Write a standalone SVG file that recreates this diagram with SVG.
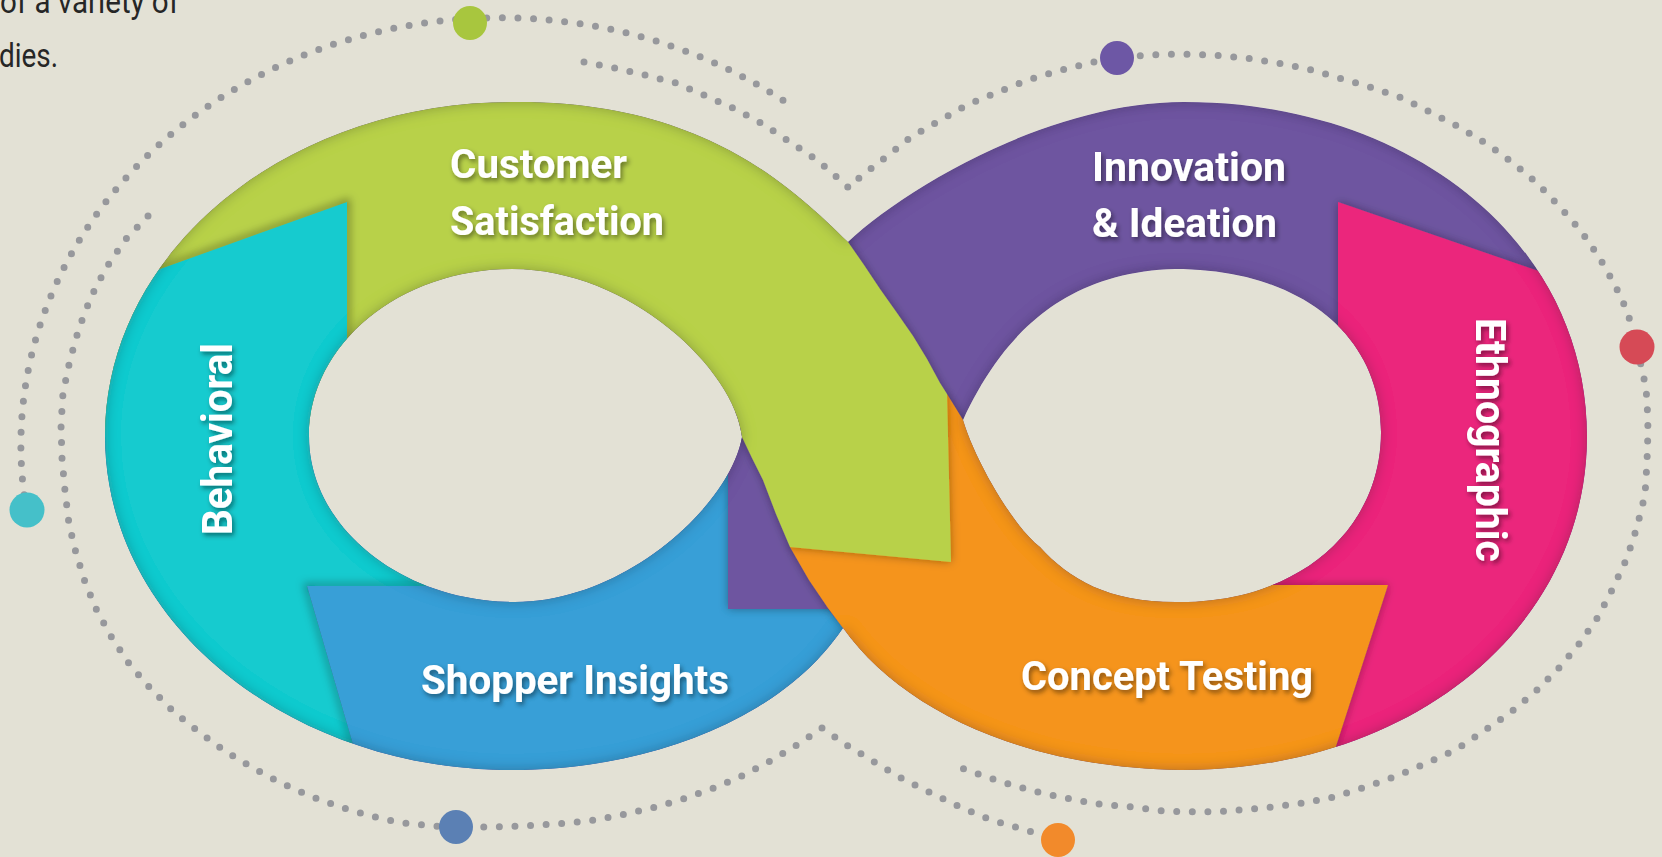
<svg xmlns="http://www.w3.org/2000/svg" width="1662" height="857" viewBox="0 0 1662 857">
<defs>
<style>
.dots{fill:none;stroke:#97989c;stroke-width:7;stroke-linecap:round;stroke-linejoin:round;stroke-dasharray:0 15.6}
.lbl{font-family:Roboto,'Open Sans','Liberation Sans',sans-serif;font-weight:700;fill:#ffffff;font-size:41px}
.rot{font-size:42px}
.intro{font-family:Roboto,'Open Sans','Liberation Sans',sans-serif;font-weight:400;fill:#262626;font-size:33px}
.piece{stroke:none}
</style>
<clipPath id="clipBand">
<path clip-rule="evenodd" d="M848,242 C905,188 1050,102 1184,102 C1415,102 1587,245 1587,436 C1587,627 1413,770 1182,770 C1020,768 900,708 843,628 C780,722 644,770 512,770 C287,770 105,621 105,436 C105,251 287,102 512,102 C700,100 790,185 848,242 Z M512,269 C400,269 309,344 309,436 C309,528 403,602 515,602 C625,602 730,505 742,437 C735,370 630,269 512,269 Z M1175,269 C1299,269 1381,334 1381,432 C1381,531 1297,602 1180,602 C1110,603 1070,580 1040,547 C1012,525 975,460 963,420 C1000,340 1060,272 1175,269 Z"/>
</clipPath>
<clipPath id="clipNotTeal"><path d="M-10,-10 L760,-10 L760,437 L347,437 L347,202 L-10,330 Z"/></clipPath>
<clipPath id="clipTeal"><path d="M-10,330 L347,202 L347,380 L430,450 L430,586 L307,586 L372,810 L-10,810 Z"/></clipPath>
<filter id="fxInner" filterUnits="userSpaceOnUse" x="0" y="0" width="1662" height="857">
<feGaussianBlur in="SourceAlpha" stdDeviation="7" result="b"/>
<feComposite in="SourceAlpha" in2="b" operator="arithmetic" k2="1" k3="-1" result="edge"/>
<feFlood flood-color="#1a1a2a" flood-opacity="0.55"/>
<feComposite in2="edge" operator="in" result="sh"/>
<feMerge><feMergeNode in="SourceGraphic"/><feMergeNode in="sh"/></feMerge>
</filter>
<filter id="fxDrop" x="-20%" y="-20%" width="140%" height="140%">
<feDropShadow dx="0" dy="0" stdDeviation="5" flood-color="#000" flood-opacity="0.35"/>
</filter>
<filter id="fxBlur" x="-20%" y="-20%" width="140%" height="140%"><feGaussianBlur stdDeviation="4"/></filter>
<filter id="fxText" x="-20%" y="-30%" width="140%" height="160%">
<feDropShadow dx="2" dy="3" stdDeviation="2.5" flood-color="#000" flood-opacity="0.45"/>
</filter>
</defs>
<rect width="1662" height="857" fill="#e3e1d5"/>
<g id="intro-text">
<text class="intro" x="0" y="13" textLength="179" lengthAdjust="spacingAndGlyphs">of a variety of</text>
<text class="intro" x="-1" y="67" textLength="59" lengthAdjust="spacingAndGlyphs">dies.</text>
</g>
<g id="connectors">
<path class="dots" d="M26.5,510 A479,427 0 0 1 790,105"/>
<path class="dots" d="M148,216 L125,240 L106,268 L91,297 L79,328 L70,360 L63,393 L61,425 L62,458 L65,491 L69,524 L76,553 L85,582 L97,611 L112,638 L130,665 L151,689 L174,712 L199,732 L225,751 L253,768 L281,783 L310,796 L340,807 L371,816 L402,823 L434,826 L455,827 L491,827 L524,826 L556,824 L589,821 L621,815 L652,808 L683,799 L714,788 L744,775 L772,760 L800,743 L822,728 L848,746 L876,763 L903,779 L933,794 L962,808 L991,820 L1022,829 L1058,840"/>
<path class="dots" d="M584,62 L615,68 L645,75 L676,83 L706,96 L735,109 L763,124 L790,142 L817,160 L840,180 L849,188 L860,177 L886,157 L911,137 L939,121 L967,105 L998,92 L1028,80 L1058,71 L1089,63 L1117,58 L1148,55 L1181,54 L1213,55 L1246,58 L1277,63 L1308,69 L1339,78 L1370,87 L1402,98 L1430,112 L1459,127 L1487,144 L1513,163 L1537,183 L1560,207 L1581,231 L1599,257 L1615,285 L1628,313 L1636,347 L1643,372 L1647,398 L1648,430 L1647,462 L1645,495 L1637,527 L1627,558 L1613,588 L1598,617 L1579,644 L1558,669 L1536,691 L1511,712 L1484,731 L1457,749 L1427,763 L1397,776 L1366,787 L1330,798 L1297,804 L1263,808 L1229,811 L1197,812 L1164,811 L1132,807 L1098,804 L1065,798 L1033,791 L1002,782 L969,771 L959,767"/>
<circle cx="27" cy="510" r="17.5" fill="#45c0c9"/>
<circle cx="470" cy="23" r="17" fill="#a8c63e"/>
<circle cx="1117" cy="58" r="17" fill="#6d57a5"/>
<circle cx="1637" cy="347" r="17.5" fill="#d64a56"/>
<circle cx="456" cy="827" r="17" fill="#5b80b4"/>
<circle cx="1058" cy="840" r="17" fill="#f28a2b"/>
</g>
<g filter="url(#fxInner)">
<g clip-path="url(#clipBand)">
<g id="node-innovation-ideation">
<rect class="piece" x="0" y="0" width="1662" height="857" fill="#6e55a0"/>
<g filter="url(#fxText)">
<text class="lbl" x="1092" y="181" textLength="194" lengthAdjust="spacingAndGlyphs">Innovation</text>
<text class="lbl" x="1092" y="237" textLength="185" lengthAdjust="spacingAndGlyphs">&amp; Ideation</text>
</g>
</g>
<g id="node-ethnographic">
<path class="piece" filter="url(#fxDrop)" fill="#eb287b" d="M1338,202 L1672,317 L1672,830 L1309,830 L1388,585 L1250,585 L1250,450 L1338,400 Z"/>
<g filter="url(#fxText)">
<text class="lbl rot" transform="translate(1476,318) rotate(90)" textLength="244" lengthAdjust="spacingAndGlyphs">Ethnographic</text>
</g>
</g>
<g id="node-shopper-insights">
<path class="piece" fill="#379fd7" d="M307,586 L450,586 L600,520 L728,430 L728,609 L828,609 L843,628 L845,650 L760,830 L372,810 Z"/>
<g filter="url(#fxText)">
<text class="lbl" x="421" y="694" textLength="308" lengthAdjust="spacingAndGlyphs">Shopper Insights</text>
</g>
</g>
<g id="node-innovation-tail">
<path class="piece" filter="url(#fxDrop)" fill="#6e55a0" d="M728,425 L728,609 L832,609 L900,400 L740,400 Z"/>
</g>
<g id="node-concept-testing">
<path class="piece" filter="url(#fxDrop)" fill="#f5941e" d="M947,394 L963,420 L1150,500 L1250,585 L1388,585 L1309,830 L820,830 L820,700 L853,642 L843,628 L828,608 L809,580 L790,547 Z"/>
<g filter="url(#fxText)">
<text class="lbl" x="1021" y="690" textLength="292" lengthAdjust="spacingAndGlyphs">Concept Testing</text>
</g>
</g>
<g id="node-customer-satisfaction">
<path class="piece" filter="url(#fxDrop)" fill="#b8d14a" d="M-10,-10 L848,-10 L848,242 L864,265 L880,289 L897,313 L913,336 L927,359 L940,383 L947,394 L951,562 L790,547 L776,514 L763,480 L752,458 L742,437 L-10,437 Z"/>
<g filter="url(#fxText)">
<text class="lbl" x="450" y="178" textLength="177" lengthAdjust="spacingAndGlyphs">Customer</text>
<text class="lbl" x="450" y="235" textLength="214" lengthAdjust="spacingAndGlyphs">Satisfaction</text>
</g>
</g>
<g id="node-behavioral">
<path class="piece" fill="#15cbcf" d="M-10,330 L347,202 L347,380 L430,450 L430,586 L307,586 L372,810 L-10,810 Z"/>
<g filter="url(#fxText)">
<text class="lbl rot" transform="translate(232,535) rotate(-90)" textLength="192" lengthAdjust="spacingAndGlyphs">Behavioral</text>
</g>
</g>
<g id="seam-shadows">
<g clip-path="url(#clipNotTeal)">
<path d="M-10,330 L347,202 L347,420" fill="none" stroke="#000" stroke-opacity="0.35" stroke-width="6" filter="url(#fxBlur)"/>
</g>
<g clip-path="url(#clipTeal)">
<path d="M440,586 L307,586 L372,810" fill="none" stroke="#000" stroke-opacity="0.3" stroke-width="6" filter="url(#fxBlur)"/>
</g>
</g>
</g>
</g>
</svg>
